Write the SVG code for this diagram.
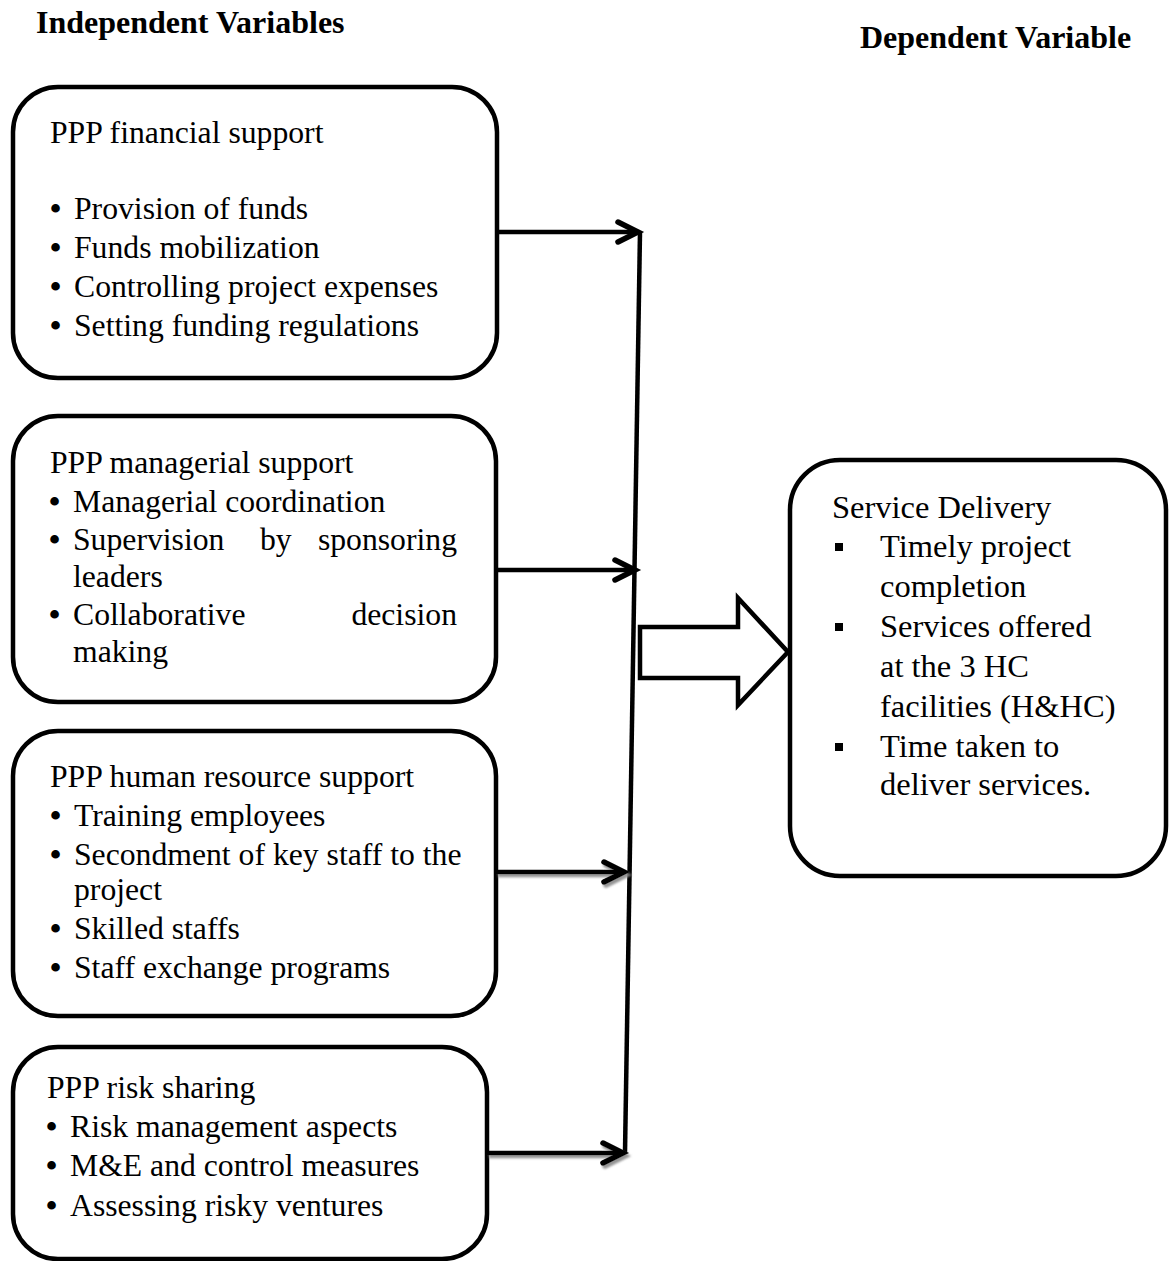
<svg xmlns="http://www.w3.org/2000/svg" width="1170" height="1261" viewBox="0 0 1170 1261">
<defs>
<style>
.box{fill:#fff;stroke:#000;stroke-width:4.5}
.t{font-family:"Liberation Serif","Times New Roman",serif;font-size:31.7px;fill:#000}
.b{font-weight:bold}
.r{font-family:"Liberation Serif","Times New Roman",serif;font-size:32.5px;fill:#000}
.h{font-family:"Liberation Serif","Times New Roman",serif;font-size:32px;font-weight:bold;fill:#000}
.ln{fill:none;stroke:#000;stroke-width:4.5;stroke-linecap:butt}
.big{fill:#fff;stroke:#000;stroke-width:4.5;stroke-linejoin:miter}
</style>
<marker id="chev" markerUnits="userSpaceOnUse" viewBox="-26 -14 30 28" markerWidth="30" markerHeight="28" refX="0" refY="0" orient="auto" overflow="visible">
<path d="M-20,-10 L0,0 L-20,10" fill="none" stroke="#000" stroke-width="5.5" stroke-linecap="round" stroke-linejoin="miter"/>
</marker>
<filter id="sh" x="-10%" y="-50%" width="120%" height="200%">
<feDropShadow dx="2" dy="3" stdDeviation="1" flood-color="#888" flood-opacity="0.9"/>
</filter>
</defs>
<rect width="1170" height="1261" fill="#fff"/>

<g id="headers">
<text class="h" x="36" y="33">Independent Variables</text>
<text class="h" x="860" y="48">Dependent Variable</text>
</g>

<g id="node-financial">
<rect class="box" x="13" y="87" width="484" height="291" rx="45" ry="45"/>
<text class="t" x="50" y="143">PPP financial support</text>
<text class="t" y="219"><tspan class="b" x="50">•</tspan><tspan x="74">Provision of funds</tspan></text>
<text class="t" y="258"><tspan class="b" x="50">•</tspan><tspan x="74">Funds mobilization</tspan></text>
<text class="t" y="297"><tspan class="b" x="50">•</tspan><tspan x="74">Controlling project expenses</tspan></text>
<text class="t" y="336"><tspan class="b" x="50">•</tspan><tspan x="74">Setting funding regulations</tspan></text>
</g>

<g id="node-managerial">
<rect class="box" x="13" y="416" width="483" height="286" rx="45" ry="45"/>
<text class="t" x="50" y="473">PPP managerial support</text>
<text class="t" y="512"><tspan class="b" x="49">•</tspan><tspan x="73">Managerial coordination</tspan></text>
<text class="t" y="550"><tspan class="b" x="49">•</tspan><tspan x="73">Supervision</tspan><tspan x="260">by</tspan><tspan x="457" text-anchor="end">sponsoring</tspan></text>
<text class="t" x="73" y="587">leaders</text>
<text class="t" y="625"><tspan class="b" x="49">•</tspan><tspan x="73">Collaborative</tspan><tspan x="457" text-anchor="end">decision</tspan></text>
<text class="t" x="73" y="662">making</text>
</g>

<g id="node-human">
<rect class="box" x="13" y="731" width="483" height="285" rx="45" ry="45"/>
<text class="t" x="50" y="787">PPP human resource support</text>
<text class="t" y="826"><tspan class="b" x="50">•</tspan><tspan x="74">Training employees</tspan></text>
<text class="t" y="865"><tspan class="b" x="50">•</tspan><tspan x="74">Secondment of key staff to the</tspan></text>
<text class="t" x="74" y="900">project</text>
<text class="t" y="939"><tspan class="b" x="50">•</tspan><tspan x="74">Skilled staffs</tspan></text>
<text class="t" y="978"><tspan class="b" x="50">•</tspan><tspan x="74">Staff exchange programs</tspan></text>
</g>

<g id="node-risk">
<rect class="box" x="13" y="1047" width="474" height="212" rx="45" ry="45"/>
<text class="t" x="47" y="1098">PPP risk sharing</text>
<text class="t" y="1137"><tspan class="b" x="46">•</tspan><tspan x="70">Risk management aspects</tspan></text>
<text class="t" y="1176"><tspan class="b" x="46">•</tspan><tspan x="70">M&amp;E and control measures</tspan></text>
<text class="t" y="1216"><tspan class="b" x="46">•</tspan><tspan x="70">Assessing risky ventures</tspan></text>
</g>

<g id="node-service">
<rect class="box" x="790" y="460" width="376" height="416" rx="50" ry="50"/>
<text class="r" x="832" y="518">Service Delivery</text>
<rect x="835" y="543" width="8" height="8"/>
<text class="r" x="880" y="557">Timely project</text>
<text class="r" x="880" y="597">completion</text>
<rect x="835" y="623" width="8" height="8"/>
<text class="r" x="880" y="637">Services offered</text>
<text class="r" x="880" y="677">at the 3 HC</text>
<text class="r" x="880" y="717">facilities (H&amp;HC)</text>
<rect x="835" y="743" width="8" height="8"/>
<text class="r" x="880" y="757">Time taken to</text>
<text class="r" x="880" y="795">deliver services.</text>
</g>

<g id="connectors">
<line class="ln" x1="640" y1="232" x2="625" y2="1152"/>
<line class="ln" x1="497" y1="232" x2="638" y2="232" marker-end="url(#chev)"/>
<line class="ln" x1="496" y1="570" x2="635" y2="570" marker-end="url(#chev)"/>
<g filter="url(#sh)">
<line class="ln" x1="496" y1="872" x2="624" y2="872" marker-end="url(#chev)"/>
<line class="ln" x1="487" y1="1153" x2="623" y2="1153" marker-end="url(#chev)"/>
</g>
<path class="big" d="M640,627 L738,627 L738,598 L788,652 L738,705 L738,678 L640,678 Z"/>
</g>
</svg>
